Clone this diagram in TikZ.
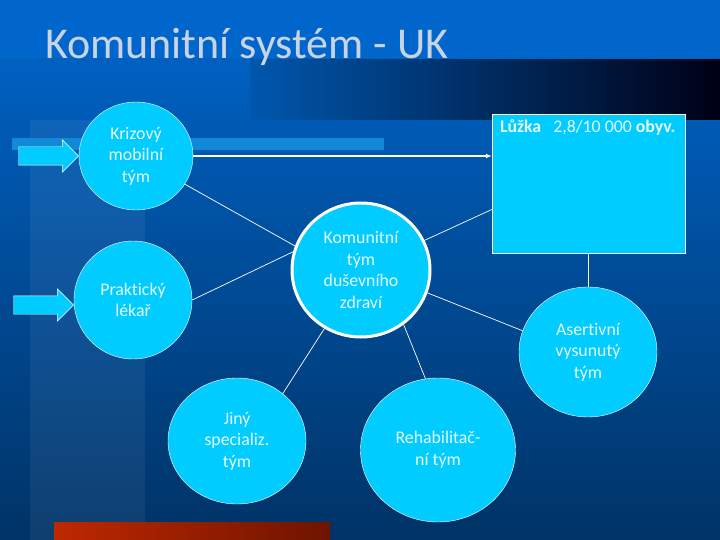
\documentclass[tikz,border=0pt]{standalone}
\usepackage{fontspec}
\setmainfont{Carlito}[Ligatures=NoCommon]
\usetikzlibrary{shapes.geometric,shapes.arrows,arrows.meta,positioning,calc}
\definecolor{bgtop}{HTML}{0066CC}
\definecolor{bgbottom}{HTML}{003366}
\definecolor{teamcyan}{HTML}{00CCFF}
\definecolor{teamtext}{HTML}{E6F9FF}
\definecolor{titlegrey}{HTML}{C8D4E4}
\definecolor{barblue}{HTML}{1188D8}
\definecolor{barred}{RGB}{255,51,0}
\definecolor{barredleft}{RGB}{190,40,0}
\definecolor{barredright}{RGB}{110,20,0}

\begin{document}
\begin{tikzpicture}[x=1pt, y=-1pt,
  team/.style={ellipse, draw=white, fill=teamcyan, text=teamtext, inner sep=0pt, align=center,
    font=\fontsize{17.8}{21.5}\selectfont},
  inarrow/.style={single arrow, draw=white, fill=teamcyan, inner xsep=0pt, inner ysep=9pt,
    minimum height=60pt, single arrow head extend=7pt, anchor=tip},
  link/.style={white, line width=0.7pt},
  arr/.style={-{Latex[length=6pt, width=5pt]}, white, line width=1.8pt}
]
  % background
  \useasboundingbox (0,0) rectangle (720,540);
  \shade[top color=bgtop, bottom color=bgbottom] (0,0) rectangle (720,540);
  \fill[bgtop] (0,0) rectangle (720,58);
  \shade[left color=bgtop!85!black, right color=black!92!blue] (250,60) rectangle (720,120);
  \fill[white, opacity=0.06] (30,120) rectangle (145,540);
  \fill[barblue] (12,138) rectangle (384,150);
  \shade[left color=barredleft, middle color=barred, right color=barredright] (54,522) rectangle (330,540);

  % title
  \node[anchor=base west, text=titlegrey, inner sep=0pt, font=\fontsize{44}{48}\selectfont] (title) at (45,59) {Komunitní systém - UK};

  % teams
  \node[team, minimum width=114pt, minimum height=108pt] (krizovy) at (136,156) {Krizový\\mobilní\\tým};
  \node[team, minimum width=118pt, minimum height=118pt] (prakticky) at (133,300) {Praktický\\lékař};
  \node[team, line width=3pt, minimum width=138pt, minimum height=134pt] (komunitni) at (361,270) {Komunitní\\tým\\duševního\\zdraví};
  \node[rectangle, draw=white, fill=teamcyan, minimum width=193pt, minimum height=139pt] (luzka) at (588.5,183.5) {};
  \node[anchor=north west, text=teamtext, font=\fontsize{17.8}{20}\selectfont, inner sep=0pt] (luzkatext) at ([xshift=8pt, yshift=-6pt]luzka.north west) {\textbf{Lůžka}~~ 2,8/10 000 \textbf{obyv.}};
  \node[team, minimum width=138pt, minimum height=130pt] (asertivni) at (588,352) {Asertivní\\vysunutý\\tým};
  \node[team, minimum width=138pt, minimum height=126pt] (jiny) at (237,441) {Jiný\\specializ.\\tým};
  \node[team, minimum width=155pt, minimum height=144pt] (rehab) at (438,450) {Rehabilitač-\\ní tým};

  % inputs
  \node[inarrow] (inkrizovy) at (krizovy.west) {};
  \node[inarrow] (inprakticky) at ([yshift=-5pt]prakticky.west) {};

  % links
  \draw[arr] (krizovy.east) -- (krizovy.east -| luzka.west);
  \draw[link] (krizovy.-30) -- (komunitni.160);
  \draw[link] (prakticky.east) -- (komunitni.165);
  \draw[link] (komunitni.25) -- ([yshift=-26pt]luzka.west);
  \draw[link] (komunitni.-19) -- (asertivni.162);
  \draw[link] (luzka.south -| asertivni.north) -- (asertivni.north);
  \draw[link] (komunitni.-122) -- (jiny.46);
  \draw[link] (komunitni.-52) -- (rehab.100);
\end{tikzpicture}
\end{document}
